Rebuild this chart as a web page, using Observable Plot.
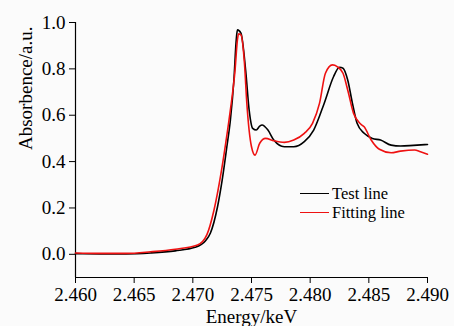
<!DOCTYPE html>
<html>
<head>
<meta charset="utf-8">
<script src="https://cdn.jsdelivr.net/npm/d3@7"></script>
<script src="https://cdn.jsdelivr.net/npm/@observablehq/plot@0.6"></script>
<style>
  html, body { margin: 0; padding: 0; background: #fbfbfb; }
  #wrap { position: relative; width: 454px; height: 326px; overflow: hidden; }
  #wrap svg, #wrap svg g, #wrap svg text, #wrap svg tspan { font-family: "Liberation Serif", "Times New Roman", serif !important; font-variant: normal !important; font-variant-numeric: normal !important; }
  .legend { position: absolute; left: 300px; top: 184px; font-family: "Liberation Serif", "Times New Roman", serif; font-size: 16.5px; color: #000; line-height: 19px; }
  .legend .row { display: flex; align-items: center; white-space: nowrap; }
  .legend .sw { width: 29px; height: 0; border-top: 1.6px solid; margin-right: 3px; }
</style>
</head>
<body>
<div id="wrap"></div>
<script>
// Data
const energyTest = [2.4600, 2.4621, 2.4643, 2.4664, 2.4685, 2.4702, 2.4711, 2.4715, 2.4721, 2.4725, 2.4729, 2.4732, 2.4735, 2.4737, 2.4738, 2.4741, 2.4745, 2.4748, 2.4751, 2.4754, 2.4757, 2.4759, 2.4764, 2.4769, 2.4778, 2.4786, 2.4795, 2.4803, 2.4812, 2.4820, 2.4825, 2.4828, 2.4832, 2.4836, 2.4840, 2.4846, 2.4853, 2.4860, 2.4869, 2.4877, 2.4888, 2.4900];
const absorbTest = [0.003, 0.002, 0.002, 0.006, 0.015, 0.030, 0.060, 0.092, 0.204, 0.320, 0.464, 0.579, 0.752, 0.925, 0.968, 0.954, 0.795, 0.622, 0.543, 0.536, 0.553, 0.558, 0.536, 0.493, 0.464, 0.464, 0.486, 0.536, 0.652, 0.767, 0.807, 0.803, 0.752, 0.652, 0.565, 0.522, 0.500, 0.493, 0.471, 0.467, 0.470, 0.474];

const energyFit = [2.4600, 2.4621, 2.4643, 2.4664, 2.4685, 2.4704, 2.4712, 2.4718, 2.4724, 2.4728, 2.4732, 2.4736, 2.4738, 2.4739, 2.4741, 2.4744, 2.4746, 2.4750, 2.4753, 2.4757, 2.4762, 2.4769, 2.4778, 2.4786, 2.4795, 2.4802, 2.4808, 2.4813, 2.4819, 2.4823, 2.4828, 2.4832, 2.4837, 2.4843, 2.4846, 2.4852, 2.4859, 2.4869, 2.4877, 2.4889, 2.4894, 2.4900];
const absorbFit = [0.006, 0.004, 0.004, 0.011, 0.022, 0.040, 0.085, 0.190, 0.349, 0.479, 0.623, 0.795, 0.925, 0.951, 0.947, 0.824, 0.653, 0.464, 0.428, 0.479, 0.500, 0.490, 0.483, 0.493, 0.522, 0.565, 0.652, 0.781, 0.817, 0.810, 0.781, 0.709, 0.608, 0.562, 0.550, 0.493, 0.453, 0.438, 0.445, 0.450, 0.442, 0.432];

const seriesNames = ["Test line", "Fitting line"];
const seriesColors = ["#000000", "#ee1111"];
const xTicks = [2.460, 2.465, 2.470, 2.475, 2.480, 2.485, 2.490];
const yTicks = [0.0, 0.2, 0.4, 0.6, 0.8, 1.0];
const xDomain = [2.460, 2.490];
const yDomain = [-0.1, 1.0];
const xTitle = "Energy/keV";
const yTitle = "Absorbence/a.u.";

const test = energyTest.map((e, i) => ({e, a: absorbTest[i], s: seriesNames[0]}));
const fit = energyFit.map((e, i) => ({e, a: absorbFit[i], s: seriesNames[1]}));

const serif = '"Liberation Serif", "Times New Roman", serif';

const chart = Plot.plot({
  width: 454,
  height: 326,
  marginLeft: 75,
  marginRight: 27,
  marginTop: 22,
  marginBottom: 49,
  style: {fontFamily: serif, fontSize: "19px", background: "transparent", color: "#000"},
  x: {domain: xDomain},
  y: {domain: yDomain},
  color: {domain: seriesNames, range: seriesColors},
  marks: [
    Plot.axisX({ticks: xTicks, tickFormat: d3.format(".3f"), tickSize: 6, tickPadding: 4, label: null, fontSize: 19}),
    Plot.axisY({ticks: yTicks, tickFormat: d3.format(".1f"), tickSize: 6, tickPadding: 4, label: null, fontSize: 19}),
    Plot.ruleX([xDomain[0]], {stroke: "#000", strokeWidth: 1.2}),
    Plot.ruleY([yDomain[0]], {stroke: "#000", strokeWidth: 1.2}),
    Plot.line(test, {x: "e", y: "a", stroke: "s", strokeWidth: 1.6, curve: "monotone-x"}),
    Plot.line(fit, {x: "e", y: "a", stroke: "s", strokeWidth: 1.6, curve: "monotone-x"}),
    Plot.text([xTitle], {frameAnchor: "bottom", dy: 45, text: d => d, fontSize: 19}),
    Plot.text([yTitle], {frameAnchor: "left", dx: -50, rotate: -90, text: d => d, fontSize: 19})
  ]
});

const wrap = document.getElementById("wrap");
wrap.appendChild(chart);

const legend = document.createElement("div");
legend.className = "legend";
seriesNames.forEach((name, i) => {
  const row = document.createElement("div");
  row.className = "row";
  const sw = document.createElement("span");
  sw.className = "sw";
  sw.style.borderColor = seriesColors[i];
  const t = document.createElement("span");
  t.textContent = name;
  row.appendChild(sw);
  row.appendChild(t);
  legend.appendChild(row);
});
wrap.appendChild(legend);
</script>
</body>
</html>
